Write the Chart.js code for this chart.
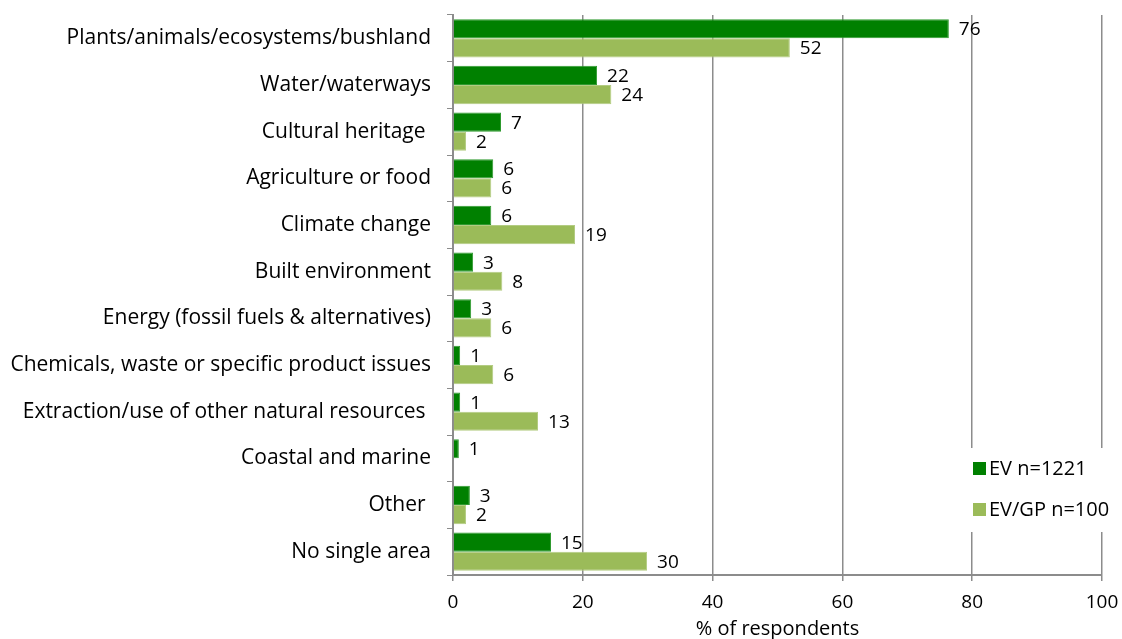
<!DOCTYPE html>
<html>
<head>
<meta charset="utf-8">
<script src="https://cdn.jsdelivr.net/npm/chart.js@4/dist/chart.umd.min.js"></script>
<style>
  html, body { margin: 0; padding: 0; background: #fff; }
  #wrap { width: 1122px; height: 639px; }
</style>
</head>
<body>
<div id="wrap"><canvas id="chart"></canvas></div>
<script>
const categories = [
  'Plants/animals/ecosystems/bushland',
  'Water/waterways',
  'Cultural heritage ',
  'Agriculture or food',
  'Climate change',
  'Built environment',
  'Energy (fossil fuels & alternatives)',
  'Chemicals, waste or specific product issues',
  'Extraction/use of other natural resources ',
  'Coastal and marine',
  'Other ',
  'No single area'
];
const evValues = [76.4, 22.2, 7.4, 6.2, 5.9, 3.1, 2.8, 1.1, 1.1, 0.9, 2.6, 15.1];
const gpValues = [51.9, 24.4, 2.0, 5.9, 18.8, 7.6, 5.9, 6.2, 13.1, null, 2.0, 29.9];
const xTicks = [0, 20, 40, 60, 80, 100];

const FONT = '"Open Sans", sans-serif';
const FS = 19;      // numbers
const FS_TEXT = 21; // words
const gridColor = '#8c8c8c';

// value labels at the end of each bar
const barLabels = {
  id: 'barLabels',
  afterDatasetsDraw(chart) {
    const ctx = chart.ctx;
    ctx.save();
    ctx.font = FS + 'px ' + FONT;
    ctx.fillStyle = '#000';
    ctx.textAlign = 'left';
    ctx.textBaseline = 'middle';
    chart.data.datasets.forEach((ds, i) => {
      const meta = chart.getDatasetMeta(i);
      meta.data.forEach((bar, j) => {
        const v = ds.data[j];
        if (v === null || v === undefined) return;
        ctx.fillText(String(Math.round(v)), bar.x + 10, bar.y + 1);
      });
    });
    ctx.restore();
  }
};

// legend box inside the plot, lower right
const innerLegend = {
  id: 'innerLegend',
  afterDraw(chart) {
    const ctx = chart.ctx;
    const x = 968, y = 448;
    ctx.save();
    ctx.fillStyle = '#fff';
    ctx.fillRect(x, y, 154, 84);
    ctx.font = (FS_TEXT - 1) + 'px ' + FONT;
    ctx.textBaseline = 'middle';
    chart.data.datasets.forEach((ds, i) => {
      const cy = y + 21 + i * 41;
      ctx.fillStyle = ds.backgroundColor;
      ctx.fillRect(x + 5, cy - 7, 13, 13);
      ctx.fillStyle = '#000';
      ctx.fillText(ds.label, x + 21, cy);
    });
    ctx.restore();
  }
};

new Chart(document.getElementById('chart'), {
  type: 'bar',
  data: {
    labels: categories,
    datasets: [
      {
        label: 'EV n=1221',
        data: evValues,
        backgroundColor: '#008000',
        borderColor: '#2f9a2f',
        borderWidth: 1
      },
      {
        label: 'EV/GP n=100',
        data: gpValues,
        backgroundColor: '#9bbb59',
        borderColor: '#b3cc82',
        borderWidth: 1
      }
    ]
  },
  options: {
    indexAxis: 'y',
    responsive: true,
    maintainAspectRatio: false,
    animation: false,
    layout: { padding: { top: 15, right: 20, left: 0, bottom: 0 } },
    categoryPercentage: 0.82,
    barPercentage: 1.0,
    plugins: {
      legend: { display: false },
      tooltip: { enabled: false }
    },
    scales: {
      x: {
        min: 0,
        max: 100,
        afterBuildTicks(scale) { scale.ticks = xTicks.map(v => ({ value: v })); },
        afterFit(scale) {
          scale.height = 64;
          scale.paddingLeft = 0;
          scale.paddingRight = 0;
        },
        grid: {
          color: gridColor,
          lineWidth: 1.5,
          tickLength: 6,
          drawTicks: true
        },
        border: { color: gridColor, width: 2 },
        ticks: {
          color: '#000',
          padding: 10,
          font: { family: FONT, size: FS }
        },
        title: {
          display: true,
          text: '% of respondents',
          color: '#000',
          padding: { top: 0, bottom: -2 },
          font: { family: FONT, size: FS_TEXT - 1 }
        }
      },
      y: {
        afterFit(scale) {
          scale.width = 453;
          scale.paddingTop = 0;
          scale.paddingBottom = 0;
        },
        grid: {
          offset: true,
          drawOnChartArea: false,
          color: gridColor,
          tickLength: 6
        },
        border: { color: gridColor, width: 2 },
        ticks: {
          color: '#000',
          padding: 16,
          font: { family: FONT, size: FS_TEXT }
        }
      }
    }
  },
  plugins: [barLabels, innerLegend]
});
</script>
</body>
</html>
